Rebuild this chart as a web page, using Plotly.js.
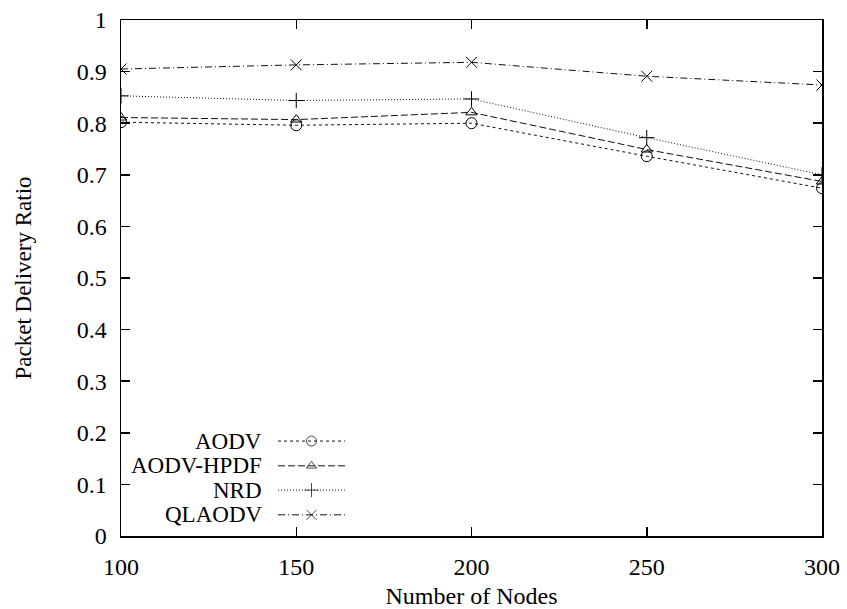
<!DOCTYPE html>
<html>
<head>
<meta charset="utf-8">
<script src="https://cdn.plot.ly/plotly-3.0.1.min.js"></script>
<style>html,body{margin:0;padding:0;background:#fff;}#chart{width:847px;height:609px;}</style>
</head>
<body>
<div id="chart"></div>
<script>
// Data
const nodes = [100, 150, 200, 250, 300];
const seriesNames = ["AODV", "AODV-HPDF", "NRD", "QLAODV"];
const aodv   = [0.802, 0.796, 0.800, 0.736, 0.674];
const hpdf   = [0.811, 0.807, 0.821, 0.749, 0.687];
const nrd    = [0.853, 0.844, 0.847, 0.772, 0.700];
const qlaodv = [0.905, 0.913, 0.918, 0.891, 0.874];
const xTicks = [100, 150, 200, 250, 300];

// Styles
const values = [aodv, hpdf, nrd, qlaodv];
const dashes = ["3px,3px", "7px,3px", "1px,2px", "7px,3px,1px,3px"];
const symbols = ["circle-open", "triangle-up-open", "cross-thin-open", "x-thin-open"];
const sizes = [11, 10, 11, 11];
const font = "Liberation Serif, Times New Roman, serif";

const traces = [];
values.forEach((v, i) => {
  traces.push({
    x: nodes, y: v, type: "scatter", mode: "lines+markers", name: seriesNames[i],
    line: {color: "#111", width: 1, dash: dashes[i]},
    marker: {symbol: symbols[i], size: sizes[i], color: "#000", line: {color: "#000", width: 1}},
    showlegend: false, hoverinfo: "skip"
  });
});

// Custom legend (text left of sample) on an overlay axis spanning the plot area
const legRowY = [0.184, 0.136, 0.089, 0.041];
const legX0 = 0.224, legX1 = 0.3195, legXm = (legX0 + legX1) / 2, legTextX = 0.204;
const annotations = [];
seriesNames.forEach((name, i) => {
  traces.push({
    x: [legX0, legXm, legX1], y: [legRowY[i], legRowY[i], legRowY[i]],
    xaxis: "x2", yaxis: "y2", type: "scatter", mode: "lines+markers",
    line: {color: "#111", width: 1, dash: dashes[i]},
    marker: {symbol: symbols[i], size: [0, sizes[i] - 1, 0], color: "#000", line: {color: "#000", width: 1}},
    showlegend: false, hoverinfo: "skip"
  });
  annotations.push({
    xref: "paper", yref: "paper", x: legTextX, y: legRowY[i], xanchor: "right", yanchor: "middle",
    text: name, showarrow: false, font: {family: font, size: 23, color: "#000"}
  });
});

const layout = {
  width: 847, height: 609,
  margin: {l: 121, r: 25, t: 20, b: 73},
  paper_bgcolor: "#fff", plot_bgcolor: "#fff",
  showlegend: false,
  font: {family: font, size: 24, color: "#000"},
  xaxis: {
    range: [100, 300], tickvals: xTicks, ticktext: xTicks.map(String),
    ticks: "inside", ticklen: 9, tickwidth: 1.5, tickcolor: "#000",
    showline: true, linecolor: "#000", linewidth: 1.5, mirror: "ticks",
    showgrid: false, zeroline: false, ticklabelstandoff: 9,
    title: {text: "Number of Nodes", font: {family: font, size: 24}, standoff: 10}
  },
  yaxis: {
    range: [0, 1], dtick: 0.1, tick0: 0,
    ticks: "inside", ticklen: 9, tickwidth: 1.5, tickcolor: "#000",
    showline: true, linecolor: "#000", linewidth: 1.5, mirror: "ticks",
    showgrid: false, zeroline: false, ticklabelstandoff: 8,
    title: {text: "Packet Delivery Ratio", font: {family: font, size: 23}, standoff: 38}
  },
  xaxis2: {overlaying: "x", range: [0, 1], visible: false, fixedrange: true},
  yaxis2: {overlaying: "y", range: [0, 1], visible: false, fixedrange: true},
  annotations: annotations
};

Plotly.newPlot("chart", traces, layout, {staticPlot: true, displayModeBar: false});
</script>
</body>
</html>
